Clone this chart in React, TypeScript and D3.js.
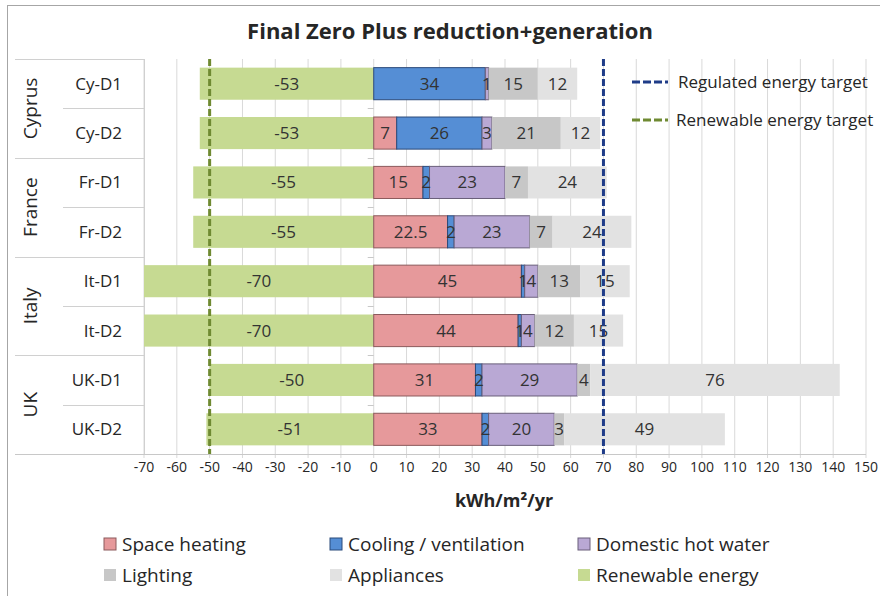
import * as React from "react";
import { scaleLinear, scaleBand, stack, range } from "d3";

const rows = ["Cy-D1", "Cy-D2", "Fr-D1", "Fr-D2", "It-D1", "It-D2", "UK-D1", "UK-D2"];
const groups = ["Cyprus", "France", "Italy", "UK"];

const spaceHeating = [0, 7, 15, 22.5, 45, 44, 31, 33];
const cooling = [34, 26, 2, 2, 1, 1, 2, 2];
const hotWater = [1, 3, 23, 23, 4, 4, 29, 20];
const lighting = [15, 21, 7, 7, 13, 12, 4, 3];
const appliances = [12, 12, 24, 24, 15, 15, 76, 49];
const renewable = [-53, -53, -55, -55, -70, -70, -50, -51];

const regulatedTarget = 70;
const renewableTarget = -50;
const xTicks = range(-70, 151, 10);

const series = [
  { key: "sh", name: "Space heating", values: spaceHeating, fill: "#E6999B", stroke: "#8C5A5C" },
  { key: "cv", name: "Cooling / ventilation", values: cooling, fill: "#558ED5", stroke: "#2B4A7A" },
  { key: "dhw", name: "Domestic hot water", values: hotWater, fill: "#B9A8D4", stroke: "#6A5F7A" },
  { key: "lt", name: "Lighting", values: lighting, fill: "#C7C7C7", stroke: "none" },
  { key: "ap", name: "Appliances", values: appliances, fill: "#E2E2E2", stroke: "none" },
];
const renewableColor = "#C6DA92";

const FONT = "'Open Sans', Lato, sans-serif";

export default function App() {
  const x = scaleLinear().domain([-70, 150]).range([144, 866]);
  const y = scaleBand<string>().domain(rows).range([59, 454]).paddingInner(0.35).paddingOuter(0.175);
  const step = y.step();
  const top = 59;
  const bottom = 454;

  const table = rows.map((r, i) => {
    const o: any = { row: r };
    series.forEach((s) => (o[s.key] = s.values[i]));
    return o;
  });
  const stacked = stack().keys(series.map((s) => s.key))(table);

  const legendItems = [
    ...series.slice(0, 3),
    ...series.slice(3),
    { key: "re", name: "Renewable energy", fill: renewableColor, stroke: "none" },
  ];
  const legendX = [104, 330, 578];
  const legendY = [544, 575];

  return (
    <svg
      width={880}
      height={596}
      style={{ position: "absolute", left: 0, top: 0, background: "#fff" }}
      fontFamily={FONT}
    >
      <rect x={7.5} y={5.5} width={900} height={620} fill="#fff" stroke="#A6A6A6" />
      <text x={450} y={39} textAnchor="middle" fontSize={22} fontWeight="bold" fill="#262626">
        Final Zero Plus reduction+generation
      </text>

      {/* grid */}
      {xTicks.map((t) => (
        <line key={t} x1={x(t)} x2={x(t)} y1={top} y2={bottom + 4} stroke="#D9D9D9" />
      ))}
      {/* category axis box */}
      <line x1={15} x2={144} y1={top + 0.5} y2={top + 0.5} stroke="#D0D0D0" />
      <line x1={144.5} x2={144.5} y1={top} y2={bottom} stroke="#D0D0D0" />
      <line x1={15} x2={866} y1={bottom + 0.5} y2={bottom + 0.5} stroke="#C8C8C8" />
      {rows.slice(1).map((r, i) => {
        const yy = Math.round(top + step * (i + 1)) + 0.5;
        const groupEdge = (i + 1) % 2 === 0;
        return (
          <g key={r}>
            <line x1={groupEdge ? 15 : 63} x2={144} y1={yy} y2={yy} stroke="#D0D0D0" />
            <line x1={x(0) - 6} x2={x(0)} y1={yy} y2={yy} stroke="#C8C8C8" />
          </g>
        );
      })}
      {rows.map((r) => (
        <text
          key={r}
          x={122}
          y={(y(r) as number) + y.bandwidth() / 2}
          dy="0.35em"
          textAnchor="end"
          fontSize={17}
          fill="#262626"
        >
          {r}
        </text>
      ))}
      {groups.map((g, i) => {
        const cy = top + step * (2 * i + 1);
        return (
          <text
            key={g}
            transform={`translate(30,${cy}) rotate(-90)`}
            dy="0.35em"
            textAnchor="middle"
            fontSize={19}
            fill="#262626"
          >
            {g}
          </text>
        );
      })}

      {/* renewable bars */}
      {rows.map((r, i) => (
        <g key={r}>
          <rect
            x={x(renewable[i])}
            y={y(r)}
            width={x(0) - x(renewable[i])}
            height={y.bandwidth()}
            fill={renewableColor}
          />
          <text
            x={x(renewable[i] / 2)}
            y={(y(r) as number) + y.bandwidth() / 2}
            dy="0.35em"
            textAnchor="middle"
            fontSize={17}
            fill="#333"
          >
            {renewable[i]}
          </text>
        </g>
      ))}

      {/* stacked consumption bars */}
      {stacked.map((layer, li) => (
        <g key={layer.key}>
          {layer.map((d, i) =>
            d[1] - d[0] > 0 ? (
              <rect
                key={i}
                x={x(d[0])}
                y={y(rows[i])}
                width={x(d[1]) - x(d[0])}
                height={y.bandwidth()}
                fill={series[li].fill}
                stroke={series[li].stroke}
                strokeWidth={1}
              />
            ) : null
          )}
        </g>
      ))}
      {stacked.map((layer) => (
        <g key={"l" + layer.key}>
          {layer.map((d, i) =>
            d[1] - d[0] > 0 ? (
              <text
                key={i}
                x={x((d[0] + d[1]) / 2)}
                y={(y(rows[i]) as number) + y.bandwidth() / 2}
                dy="0.35em"
                textAnchor="middle"
                fontSize={17}
                fill="#333"
              >
                {d[1] - d[0]}
              </text>
            ) : null
          )}
        </g>
      ))}

      {/* target lines */}
      <line
        x1={x(renewableTarget)}
        x2={x(renewableTarget)}
        y1={top}
        y2={bottom}
        stroke="#6F8A32"
        strokeWidth={3}
        strokeDasharray="7,3"
      />
      <line
        x1={x(regulatedTarget)}
        x2={x(regulatedTarget)}
        y1={top}
        y2={bottom}
        stroke="#1F3C88"
        strokeWidth={3}
        strokeDasharray="7,3"
      />

      {/* target legend */}
      <line x1={632} x2={668} y1={82} y2={82} stroke="#1F3C88" strokeWidth={3} strokeDasharray="8,3" />
      <text x={678} y={82} dy="0.35em" fontSize={17} fill="#262626">
        Regulated energy target
      </text>
      <line x1={632} x2={668} y1={120} y2={120} stroke="#6F8A32" strokeWidth={3} strokeDasharray="8,3" />
      <text x={676} y={120} dy="0.35em" fontSize={17} fill="#262626">
        Renewable energy target
      </text>

      {/* x axis */}
      {xTicks.map((t) => (
        <text key={"t" + t} x={x(t)} y={472} textAnchor="middle" fontSize={14} fill="#262626">
          {t}
        </text>
      ))}
      <text x={504} y={507} textAnchor="middle" fontSize={18} fontWeight="bold" fill="#262626">
        kWh/m²/yr
      </text>

      {/* legend */}
      {legendItems.map((s, i) => {
        const lx = legendX[i % 3];
        const ly = legendY[Math.floor(i / 3)];
        return (
          <g key={s.key}>
            <rect
              x={lx}
              y={ly - 6}
              width={12}
              height={12}
              fill={s.fill}
              stroke={s.stroke === "none" ? "none" : s.stroke}
            />
            <text x={lx + 18} y={ly} dy="0.35em" fontSize={19} fill="#262626">
              {s.name}
            </text>
          </g>
        );
      })}
    </svg>
  );
}
